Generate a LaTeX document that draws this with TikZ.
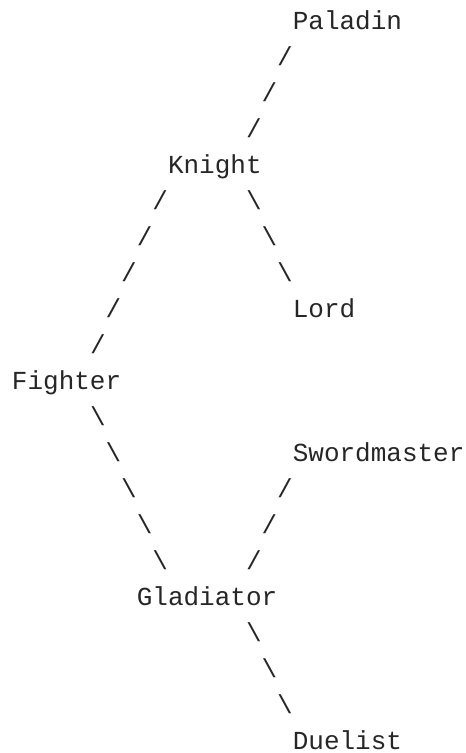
\documentclass[tikz,border=0pt]{standalone}
\usepackage{fontspec}
\setmonofont{Liberation Mono}
\begin{document}
\begin{tikzpicture}[x=11.7pt,y=-27pt,
  txt/.style={inner sep=0pt,outer sep=0pt,anchor=base west,text=black!85,
    font=\ttfamily\fontsize{19.5}{23}\selectfont},
  fs/.style={txt},
  bs/.style={txt}]
\useasboundingbox (-0.76923,-0.81481) rectangle (29.1026,20.1019);
% class names
\node[txt] (paladin) at (18,0) {Paladin};
\node[txt] (knight) at (10,4) {Knight};
\node[txt] (lord) at (18,8) {Lord};
\node[txt] (fighter) at (0,10) {Fighter};
\node[txt] (swordmaster) at (18,12) {Swordmaster};
\node[txt] (gladiator) at (8,16) {Gladiator};
\node[txt] (duelist) at (18,20) {Duelist};
% Knight -- Paladin
\node[fs] (kp1) at (17,1) {/};
\node[fs] (kp2) at (16,2) {/};
\node[fs] (kp3) at (15,3) {/};
% Fighter -- Knight
\node[fs] (fk1) at (9,5) {/};
\node[fs] (fk2) at (8,6) {/};
\node[fs] (fk3) at (7,7) {/};
\node[fs] (fk4) at (6,8) {/};
\node[fs] (fk5) at (5,9) {/};
% Knight -- Lord
\node[bs] (kl1) at (15,5) {\textbackslash};
\node[bs] (kl2) at (16,6) {\textbackslash};
\node[bs] (kl3) at (17,7) {\textbackslash};
% Fighter -- Gladiator
\node[bs] (fg1) at (5,11) {\textbackslash};
\node[bs] (fg2) at (6,12) {\textbackslash};
\node[bs] (fg3) at (7,13) {\textbackslash};
\node[bs] (fg4) at (8,14) {\textbackslash};
\node[bs] (fg5) at (9,15) {\textbackslash};
% Gladiator -- Swordmaster
\node[fs] (gs1) at (17,13) {/};
\node[fs] (gs2) at (16,14) {/};
\node[fs] (gs3) at (15,15) {/};
% Gladiator -- Duelist
\node[bs] (gd1) at (15,17) {\textbackslash};
\node[bs] (gd2) at (16,18) {\textbackslash};
\node[bs] (gd3) at (17,19) {\textbackslash};
\end{tikzpicture}
\end{document}
